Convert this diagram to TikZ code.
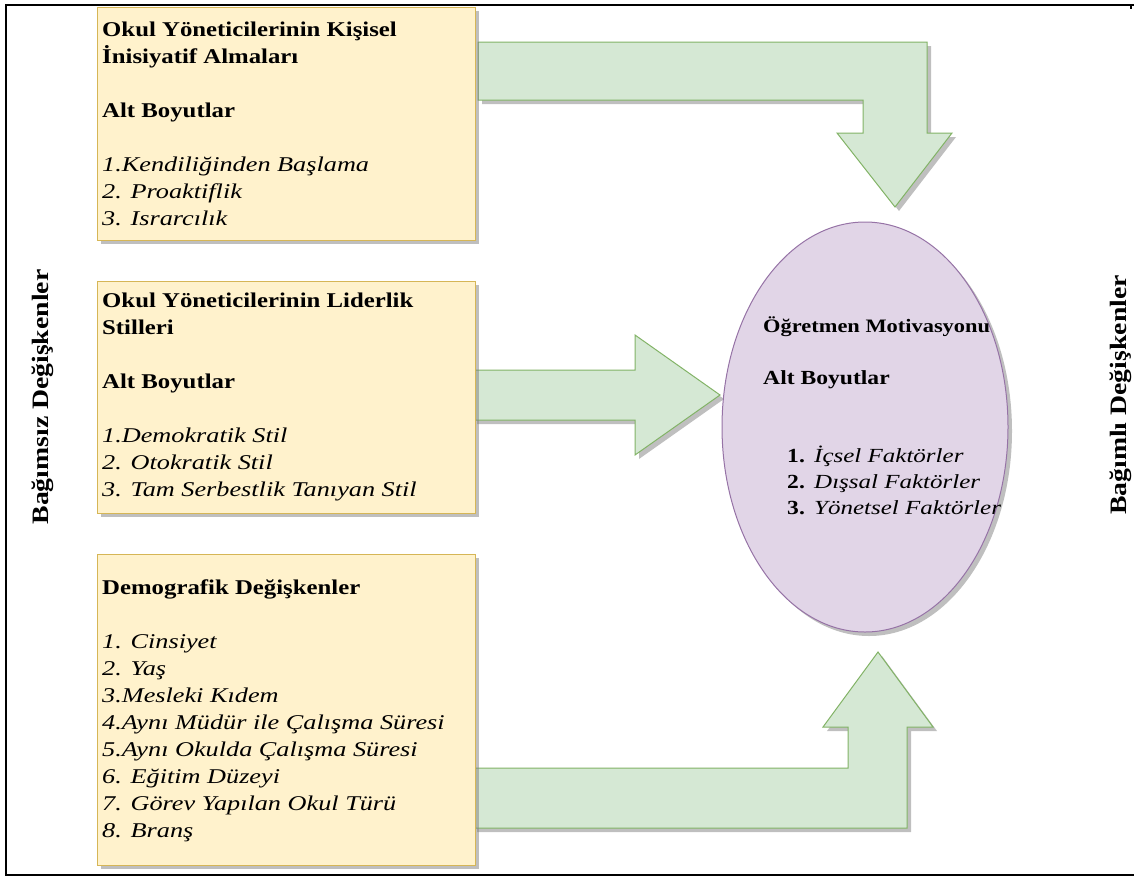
\documentclass[tikz,border=0pt]{standalone}
\usepackage{fontspec}
\setmainfont{Liberation Serif}[
  UprightFeatures={FakeStretch=1.12},
  BoldFeatures={FakeStretch=1.18},
  ItalicFeatures={FakeStretch=1.25},
  BoldItalicFeatures={FakeStretch=1.25}]
\usetikzlibrary{shadows,shapes.geometric}

\definecolor{boxfill}{HTML}{FFF2CC}
\definecolor{boxline}{HTML}{D6B656}
\definecolor{arrfill}{HTML}{D5E8D4}
\definecolor{arrline}{HTML}{82B366}
\definecolor{ellfill}{HTML}{E1D5E7}
\definecolor{ellline}{HTML}{9673A6}

\tikzset{
  shadowed/.style={drop shadow={shadow xshift=4pt, shadow yshift=-4pt, fill=black!50, opacity=0.5}},
  varbox/.style={shadowed, draw=boxline, fill=boxfill, line width=1pt, rectangle,
                 anchor=north west, outer sep=0pt, inner sep=0pt},
  blockarrow/.style={shadowed, draw=arrline, fill=arrfill, line width=1pt, line join=miter},
  ellnode/.style={shadowed, draw=ellline, fill=ellfill, line width=1pt, ellipse,
                  inner sep=0pt, outer sep=0pt},
  boxtext/.style={anchor=west, align=left, inner sep=0pt, font=\fontsize{21}{27}\selectfont},
  elltext/.style={anchor=west, align=left, inner sep=0pt, font=\fontsize{20}{26}\selectfont},
  sidelabel/.style={rotate=90, inner sep=0pt, font=\fontsize{23.5}{26}\selectfont\bfseries},
  frameline/.style={line width=2pt, line cap=rect}
}

\newcommand{\numitem}[2]{\hspace*{24pt}\makebox[27pt][l]{\textbf{#1}}\textit{#2}}

\begin{document}
\begin{tikzpicture}[x=1pt, y=-1pt]
  \useasboundingbox (0,0) rectangle (1134,878);

  % outer frame (open on the right)
  \draw[frameline] (1134,5) -- (6,5) -- (6,875) -- (1134,875);
  \draw[line width=2pt] (1131,5) -- (1131,9);

  % block arrows towards the dependent variable
  \path[blockarrow] (478,42) -- (927,42) -- (927,133) -- (952,133) -- (895,207)
        -- (837,133) -- (863,133) -- (863,100) -- (478,100) -- cycle;
  \path[blockarrow] (473,370) -- (635,370) -- (635,335) -- (720,395)
        -- (635,455) -- (635,420) -- (473,420) -- cycle;
  \path[blockarrow] (473,768) -- (848,768) -- (848,727) -- (823,727) -- (878,652)
        -- (933,727) -- (907,727) -- (907,828) -- (473,828) -- cycle;

  % independent variable boxes
  \node[varbox, minimum width=378, minimum height=233] (kisisel) at (97,7) {};
  \node[varbox, minimum width=378, minimum height=232] (liderlik) at (97,281) {};
  \node[varbox, minimum width=378, minimum height=311] (demografik) at (97,554) {};

  \node[boxtext] (kisiselText) at (102,123.5)
    {\textbf{Okul Yöneticilerinin Kişisel}\\
     \textbf{İnisiyatif Almaları}\\[27pt]
     \textbf{Alt Boyutlar}\\[27pt]
     \textit{1.Kendiliğinden Başlama}\\
     \textit{2. Proaktiflik}\\
     \textit{3. Israrcılık}};

  \node[boxtext] (liderlikText) at (102,397)
    {\textbf{Okul Yöneticilerinin Liderlik}\\
     \textbf{Stilleri}\\[27pt]
     \textbf{Alt Boyutlar}\\[27pt]
     \textit{1.Demokratik Stil}\\
     \textit{2. Otokratik Stil}\\
     \textit{3. Tam Serbestlik Tanıyan Stil}};

  \node[boxtext] (demografikText) at (102,711)
    {\textbf{Demografik Değişkenler}\\[27pt]
     \textit{1. Cinsiyet}\\
     \textit{2. Yaş}\\
     \textit{3.Mesleki Kıdem}\\
     \textit{4.Aynı Müdür ile Çalışma Süresi}\\
     \textit{5.Aynı Okulda Çalışma Süresi}\\
     \textit{6. Eğitim Düzeyi}\\
     \textit{7. Görev Yapılan Okul Türü}\\
     \textit{8. Branş}};

  % dependent variable
  \node[ellnode, minimum width=286, minimum height=410] (motivasyon) at (865,427) {};
  \node[elltext] (motivasyonText) at (763,416)
    {{\fontsize{19}{26}\selectfont\textbf{Öğretmen Motivasyonu}}\\[26pt]
     \textbf{Alt Boyutlar}\\[52pt]
     \numitem{1.}{İçsel Faktörler}\\
     \numitem{2.}{Dışsal Faktörler}\\
     \numitem{3.}{Yönetsel Faktörler}};

  % side captions
  \node[sidelabel] (bagimsiz) at (43,397) {Bağımsız Değişkenler};
  \node[sidelabel] (bagimli) at (1121,395) {Bağımlı Değişkenler};
\end{tikzpicture}
\end{document}
